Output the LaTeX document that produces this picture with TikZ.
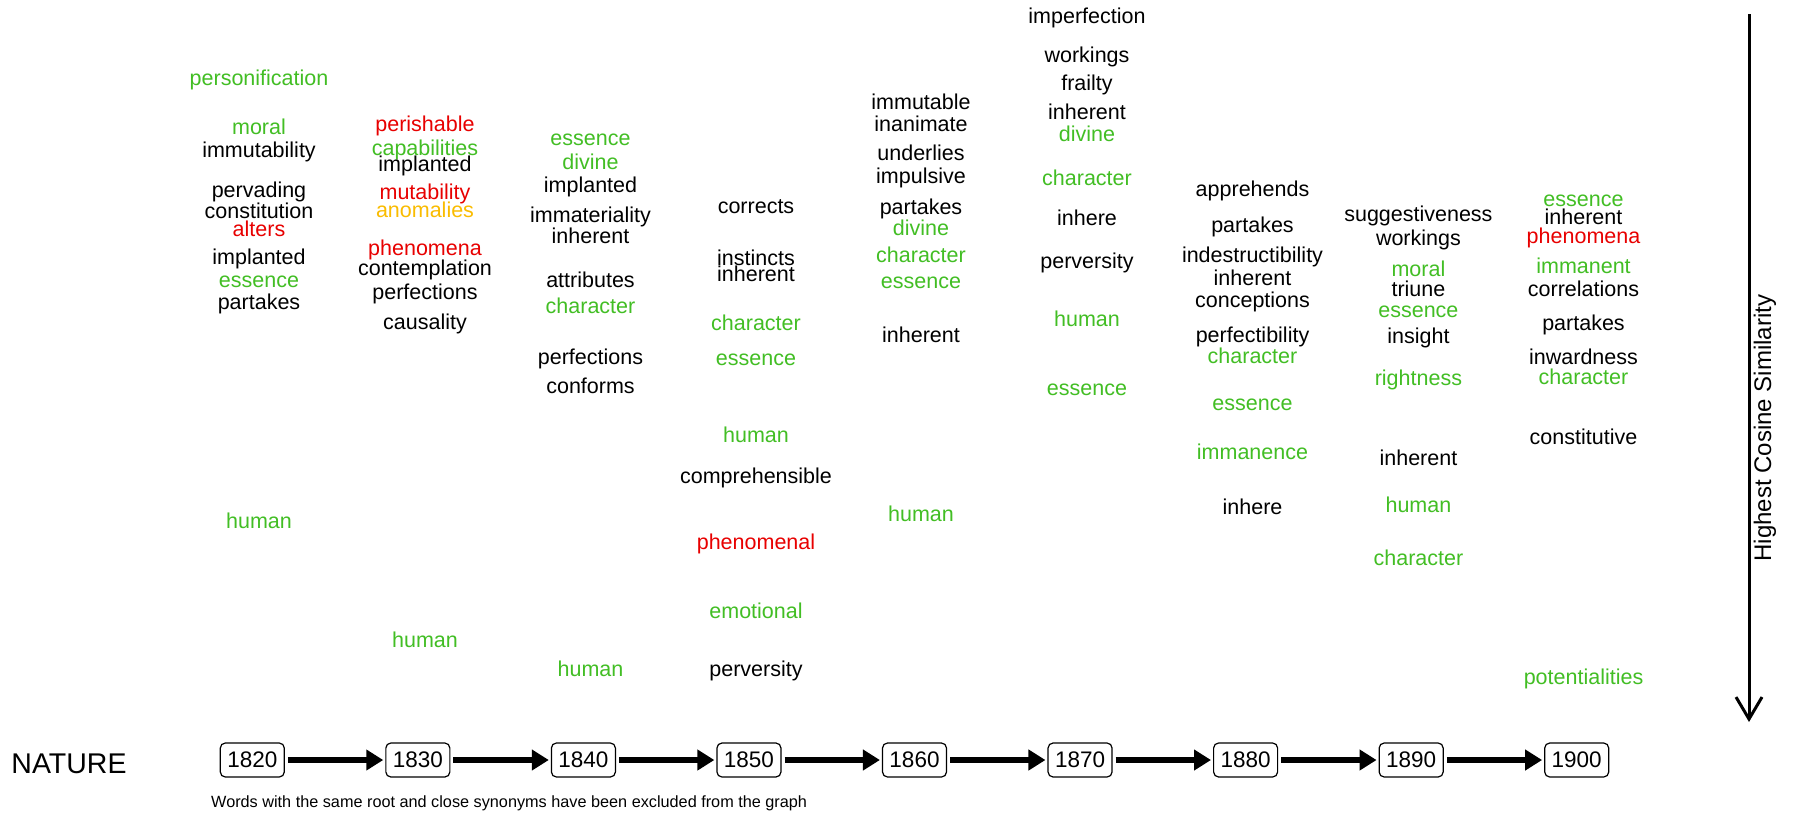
\documentclass[tikz,border=0pt]{standalone}
\usepackage{fontspec}
\setmainfont{Liberation Sans}
\usetikzlibrary{arrows.meta}
\definecolor{gr}{RGB}{66,190,36}
\definecolor{rd}{RGB}{232,0,0}
\definecolor{am}{RGB}{250,188,0}
\definecolor{bk}{RGB}{0,0,0}
\begin{document}
\begin{tikzpicture}[x=1pt,y=-1pt,
  word/.style={font=\fontsize{21.5}{24}\selectfont,text height=16pt,text depth=4pt,inner sep=0pt,yshift=-1.5pt},
  yearbox/.style={draw,rounded corners=5pt,line width=1.2pt,font=\fontsize{22.5}{24}\selectfont,minimum width=64pt,minimum height=34pt,inner sep=0pt},
  steparrow/.style={line width=6.5pt,-{Triangle[length=17pt,width=20pt]},shorten <=3pt,shorten >=2pt}]
\fill[white] (0,0) rectangle (1798,812);
\useasboundingbox (0,0) rectangle (1798,812);
% column 1820
\foreach \t/\y/\c [count=\i] in {personification/78/gr, moral/127.3/gr, immutability/150.2/bk, pervading/190.4/bk, constitution/211/bk, alters/229.3/rd, implanted/256.9/bk, essence/279.8/gr, partakes/301.6/bk, human/520.6/gr}
  \node[word,text=\c] (a\i) at (259,\y) {\t};
% column 1830
\foreach \t/\y/\c [count=\i] in {perishable/123.8/rd, capabilities/147.9/gr, implanted/164/bk, mutability/191.5/rd, anomalies/209.8/am, phenomena/247.7/rd, contemplation/268.3/bk, perfections/292.4/bk, causality/322.2/bk, human/639.9/gr}
  \node[word,text=\c] (b\i) at (425,\y) {\t};
% column 1840
\foreach \t/\y/\c [count=\i] in {essence/137.5/gr, divine/162/gr, implanted/184.8/bk, immateriality/214.7/bk, inherent/236/bk, attributes/280/bk, character/306/gr, perfections/356.7/bk, conforms/385.5/bk, human/668.5/gr}
  \node[word,text=\c] (c\i) at (590.5,\y) {\t};
% column 1850
\foreach \t/\y/\c [count=\i] in {corrects/205.5/bk, instincts/258/bk, inherent/274/bk, character/323/gr, essence/358/gr, human/434.6/gr, comprehensible/475.9/bk, phenomenal/542.4/rd, emotional/611.2/gr, perversity/668.5/bk}
  \node[word,text=\c] (d\i) at (756,\y) {\t};
% column 1860
\foreach \t/\y/\c [count=\i] in {immutable/102/bk, inanimate/124/bk, underlies/152.6/bk, impulsive/175.5/bk, partakes/206.5/bk, divine/227.5/gr, character/254.8/gr, essence/281.3/gr, inherent/334.5/bk, human/513.7/gr}
  \node[word,text=\c] (e\i) at (921,\y) {\t};
% column 1870
\foreach \t/\y/\c [count=\i] in {imperfection/16/bk, workings/55/bk, frailty/82.7/bk, inherent/111.5/bk, divine/134.3/gr, character/177.7/gr, inhere/218/bk, perversity/260.5/bk, human/319/gr, essence/387.5/gr}
  \node[word,text=\c] (f\i) at (1087,\y) {\t};
% column 1880
\foreach \t/\y/\c [count=\i] in {apprehends/189.3/bk, partakes/224.5/bk, indestructibility/255.3/bk, inherent/278/bk, conceptions/300.2/bk, perfectibility/335/bk, character/355.8/gr, essence/403/gr, immanence/451.8/gr, inhere/506.8/bk}
  \node[word,text=\c] (g\i) at (1252.5,\y) {\t};
% column 1890
\foreach \t/\y/\c [count=\i] in {suggestiveness/214.2/bk, workings/237.8/bk, moral/269.3/gr, triune/288.7/bk, essence/309.8/gr, insight/335.8/bk, rightness/377.8/gr, inherent/457.5/bk, human/504.5/gr, character/558.4/gr}
  \node[word,text=\c] (h\i) at (1418.4,\y) {\t};
% column 1900
\foreach \t/\y/\c [count=\i] in {essence/199.4/gr, inherent/216.7/bk, phenomena/235.6/rd, immanent/266/gr, correlations/289.2/bk, partakes/322.5/bk, inwardness/357/bk, character/377/gr, constitutive/436.9/bk, potentialities/676.6/gr}
  \node[word,text=\c] (k\i) at (1583.5,\y) {\t};
% timeline
\node[anchor=base,font=\fontsize{28.5}{30}\selectfont,inner sep=0pt] (nature) at (69,773) {NATURE};
\foreach \yr [count=\i] in {1820,1830,1840,1850,1860,1870,1880,1890,1900}
  \node[yearbox] (y\i) at ({252.3+165.55*(\i-1)},760) {\yr};
\foreach \i [remember=\i as \last (initially 1)] in {2,...,9}
  \draw[steparrow] (y\last) -- (y\i);
\node[anchor=base west,font=\fontsize{16.25}{18}\selectfont,inner sep=0pt] (note) at (211,807) {Words with the same root and close synonyms have been excluded from the graph};
% similarity axis
\coordinate (vtop) at (1749,14);
\coordinate (vbot) at (1749,722);
\draw[line width=3pt,-{Straight Barb[length=22pt,width=26pt]}] (vtop) -- (vbot);
\node[rotate=90,anchor=base,font=\fontsize{24}{26}\selectfont,inner sep=0pt] (axislabel) at (1771,428) {Highest Cosine Similarity};
\end{tikzpicture}
\end{document}
